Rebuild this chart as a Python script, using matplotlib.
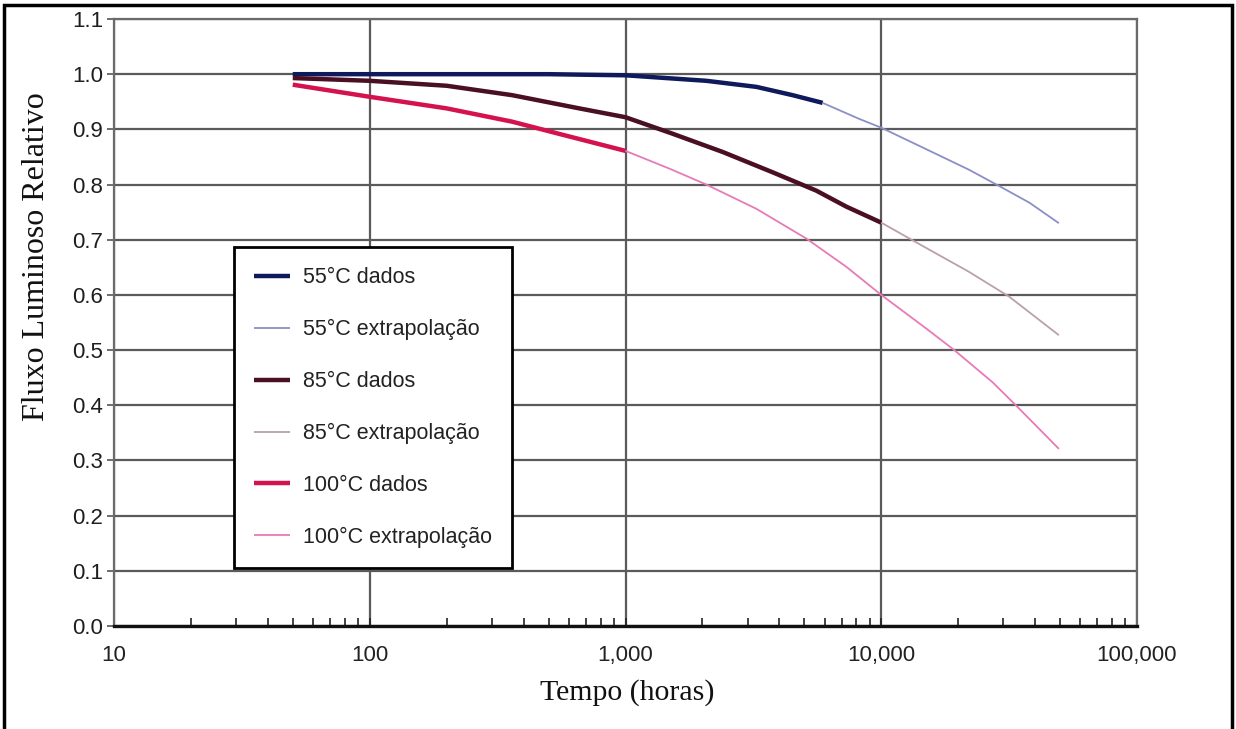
import numpy as np
import matplotlib.pyplot as plt
import matplotlib.patches as mpatches
from matplotlib.ticker import FuncFormatter, LogLocator, FixedLocator

## Data (tempo em horas, fluxo relativo)
x55_dados = [50, 100, 200, 500, 700, 1000, 2070, 3250, 4500, 5900]
y55_dados = [1.0, 1.0, 1.0, 1.0, 0.999, 0.998, 0.988, 0.977, 0.962, 0.948]
x55_ext = [5900, 8200, 10000, 15000, 22000, 29000, 38000, 49500]
y55_ext = [0.948, 0.919, 0.903, 0.864, 0.827, 0.797, 0.767, 0.730]

x85_dados = [50, 100, 200, 360, 660, 1000, 1530, 2400, 3770, 5570, 7300, 10000]
y85_dados = [0.993, 0.988, 0.979, 0.962, 0.938, 0.922, 0.892, 0.859, 0.822, 0.789, 0.760, 0.731]
x85_ext = [10000, 15000, 22000, 31600, 49500]
y85_ext = [0.731, 0.685, 0.642, 0.597, 0.527]

x100_dados = [50, 100, 200, 360, 570, 1000]
y100_dados = [0.981, 0.959, 0.938, 0.914, 0.890, 0.861]
x100_ext = [1000, 1500, 2070, 3250, 5100, 7300, 10000, 15000, 19300, 27200, 33600, 49500]
y100_ext = [0.861, 0.828, 0.800, 0.756, 0.702, 0.651, 0.600, 0.539, 0.50, 0.442, 0.40, 0.321]

labels = ["55°C dados", "55°C extrapolação", "85°C dados",
          "85°C extrapolação", "100°C dados", "100°C extrapolação"]
x_ticks = [10, 100, 1000, 10000, 100000]
y_ticks = [0.0, 0.1, 0.2, 0.3, 0.4, 0.5, 0.6, 0.7, 0.8, 0.9, 1.0, 1.1]

fig = plt.figure(figsize=(12.36, 7.29), dpi=100)
ax = fig.add_axes([114/1236, 1 - 626/729, (1137 - 114)/1236, (626 - 19)/729])

# grid first so curves sit on top
for yt in y_ticks:
    ax.axhline(yt, color="#5a5a5a", lw=1.6, zorder=1)
for xt in x_ticks:
    ax.axvline(xt, color="#5a5a5a", lw=1.6, zorder=1)

series = [
    (x55_dados, y55_dados, "#0f1a5c", 3.2),
    (x55_ext, y55_ext, "#8a90c4", 1.3),
    (x85_dados, y85_dados, "#4a0f22", 3.2),
    (x85_ext, y85_ext, "#bba0a8", 1.3),
    (x100_dados, y100_dados, "#d4124e", 3.2),
    (x100_ext, y100_ext, "#e77ab8", 1.3),
]
for (xs, ys, c, lw), lab in zip(series, labels):
    ax.plot(xs, ys, color=c, lw=lw, label=lab, zorder=3,
            solid_capstyle="butt", solid_joinstyle="round")

ax.set_xscale("log")
ax.set_xlim(10, 100000)
ax.set_ylim(0, 1.1)
ax.xaxis.set_major_locator(FixedLocator(x_ticks))
ax.xaxis.set_minor_locator(LogLocator(base=10, subs=np.arange(2, 10)))
ax.xaxis.set_major_formatter(FuncFormatter(lambda v, p: "{:,.0f}".format(v)))
ax.xaxis.set_minor_formatter(FuncFormatter(lambda v, p: ""))
ax.set_yticks(y_ticks)
ax.yaxis.set_major_formatter(FuncFormatter(lambda v, p: "%.1f" % v))

ax.tick_params(axis="x", which="major", direction="in", length=6, width=1.2,
               colors="#222222", labelsize=16, pad=14)
ax.tick_params(axis="x", which="minor", direction="in", length=6, width=1.2,
               color="#222222")
ax.tick_params(axis="y", direction="out", length=5, width=1.2, colors="#555555",
               labelcolor="#1e1e1e", labelsize=16, pad=3)
for lab in ax.get_xticklabels() + ax.get_yticklabels():
    lab.set_family(["Liberation Sans", "DejaVu Sans"])

for side in ["left", "right", "top"]:
    ax.spines[side].set_color("#6a6a6a")
    ax.spines[side].set_linewidth(1.6)
ax.spines["bottom"].set_color("#111111")
ax.spines["bottom"].set_linewidth(2.4)
ax.spines["bottom"].set_zorder(4)

fig.text(627/1236, 1 - 693/729, "Tempo (horas)", family="Liberation Serif",
         fontsize=21.5, ha="center", va="center", color="#111111")
fig.text(37/1236, 1 - 257/729, "Fluxo Luminoso Relativo", family="Liberation Serif",
         fontsize=23, ha="center", va="center", rotation=90, color="#111111")

leg = ax.legend(loc="upper left", bbox_to_anchor=(234/1236, 1 - 247/729),
                bbox_transform=fig.transFigure, fancybox=False, framealpha=1,
                edgecolor="black", prop={"family": "Liberation Sans", "size": 15.5},
                labelspacing=1.43, handlelength=1.65, handletextpad=0.6,
                borderpad=0.95, borderaxespad=0)
leg.get_frame().set_linewidth(2)
leg.set_zorder(5)
for t in leg.get_texts():
    t.set_color("#222222")

# outer frame around the whole picture
fig.patches.append(mpatches.Rectangle((0.003, -0.02), 0.994, 1.013,
                                      transform=fig.transFigure, fill=False,
                                      edgecolor="black", lw=2.5))

fig.savefig("out.png", dpi=100)
